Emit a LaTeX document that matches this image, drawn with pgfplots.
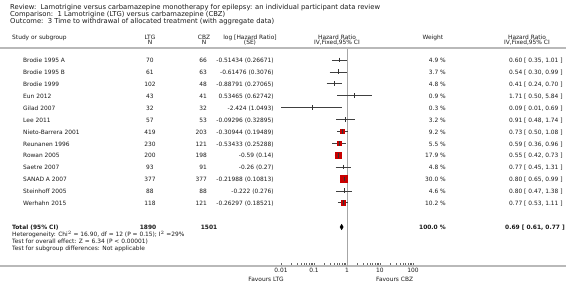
\documentclass[border=0pt]{standalone}
\usepackage{fontspec}
\setmainfont{DejaVu Sans}
\usepackage{pgfplots}
\pgfplotsset{compat=1.18}
\definecolor{sqred}{RGB}{200,0,0}
\definecolor{txt}{RGB}{25,25,25}
\begin{document}
\begin{tikzpicture}
\tikzset{t/.style={font=\fontsize{5.9}{7}\selectfont, inner sep=0pt, text=txt},
         tt/.style={font=\fontsize{6.8}{7.5}\selectfont, inner sep=0pt, text=txt},
         tb/.style={t, font=\fontsize{5.9}{7}\selectfont\bfseries}}
\useasboundingbox (0,0) rectangle (566pt,289pt);
\begin{axis}[
  at={(0pt,23pt)}, anchor=south west,
  scale only axis, width=566pt, height=218pt,
  xmode=log, xmin=3.053e-11, xmax=4.329e6,
  ymin=48, ymax=266, y dir=reverse,
  axis x line*=bottom, axis y line=none,
  x axis line style={gray!55, line width=1.6pt, -},
  xtick={0.01,0.1,1,10,100},
  xticklabels={0.01,0.1,1,10,100},
  xticklabel style={font=\fontsize{5.9}{7}\selectfont, text=txt, inner sep=1pt, yshift=-0.5pt},
  xtick style={black!60, line width=0.4pt},
  major tick length=2.5pt, tick align=inside,
  minor xtick={},
  clip=false,
]
% vertical line of no effect
\addplot[gray!70, line width=0.5pt] coordinates {(1,48) (1,266)};
% weighted squares (red)
\addplot[only marks, mark=square*, mark size=1.9pt, color=sqred] coordinates {(0.73,131.4)};
\addplot[only marks, mark=square*, mark size=1.8pt, color=sqred] coordinates {(0.59,143.3)};
\addplot[only marks, mark=square*, mark size=3.0pt, color=sqred] coordinates {(0.55,155.2)};
\addplot[only marks, mark=square*, mark size=3.6pt, color=sqred] coordinates {(0.80,179.0)};
\addplot[only marks, mark=square*, mark size=2.1pt, color=sqred] coordinates {(0.77,202.8)};
% confidence intervals
\addplot[black!75, line width=0.6pt, unbounded coords=jump] coordinates {
 (0.35,60.0) (1.01,60.0) (nan,nan)
 (0.30,71.9) (0.99,71.9) (nan,nan)
 (0.24,83.8) (0.70,83.8) (nan,nan)
 (0.50,95.7) (5.84,95.7) (nan,nan)
 (0.01,107.6) (0.69,107.6) (nan,nan)
 (0.48,119.5) (1.74,119.5) (nan,nan)
 (0.50,131.4) (1.08,131.4) (nan,nan)
 (0.36,143.3) (0.96,143.3) (nan,nan)
 (0.42,155.2) (0.73,155.2) (nan,nan)
 (0.45,167.1) (1.31,167.1) (nan,nan)
 (0.65,179.0) (0.99,179.0) (nan,nan)
 (0.47,190.9) (1.38,190.9) (nan,nan)
 (0.53,202.8) (1.11,202.8)
};
% point estimates
\addplot[only marks, mark=|, mark size=2.4pt, black!80, mark options={line width=0.6pt}] coordinates {
 (0.60,60.0) (0.54,71.9) (0.41,83.8) (1.71,95.7) (0.09,107.6) (0.91,119.5)
 (0.73,131.4) (0.59,143.3) (0.55,155.2) (0.77,167.1) (0.80,179.0) (0.80,190.9) (0.77,202.8)
};
% pooled diamond
\addplot[black, fill=black, line width=0.3pt] coordinates {(0.61,227) (0.69,224.2) (0.77,227) (0.69,229.8) (0.61,227)};
\end{axis}
\begin{scope}[x=1pt, y=-1pt, yshift=289pt]
% titles
\node[tt, anchor=mid west] at (10,6.5) {Review:\ \ Lamotrigine versus carbamazepine monotherapy for epilepsy: an individual participant data review};
\node[tt, anchor=mid west] at (10,13.4) {Comparison:\ \ 1 Lamotrigine (LTG) versus carbamazepine (CBZ)};
\node[tt, anchor=mid west] at (10,20.3) {Outcome:\ \ 3 Time to withdrawal of allocated treatment (with aggregate data)};
% headers
\node[t, anchor=mid west] at (12,37) {Study or subgroup};
\node[t, anchor=mid] at (150,36.5) {LTG};
\node[t, anchor=mid] at (150,42) {N};
\node[t, anchor=mid] at (204,36.5) {CBZ};
\node[t, anchor=mid] at (204,42) {N};
\node[t, anchor=mid] at (250,36.5) {log [Hazard Ratio]};
\node[t, anchor=mid] at (250,42) {(SE)};
\node[t, anchor=mid] at (337,36.5) {Hazard Ratio};
\node[t, anchor=mid] at (337,42) {IV,Fixed,95\% CI};
\node[t, anchor=mid] at (433,37) {Weight};
\node[t, anchor=mid] at (527,36.5) {Hazard Ratio};
\node[t, anchor=mid] at (527,42) {IV,Fixed,95\% CI};
\draw[gray!55, line width=1.6pt] (0,47.8) -- (566,47.8);
% study rows
\foreach \y/\name/\na/\nb/\lhr/\w/\hr in {
 60.0/{Brodie 1995 A}/70/66/{-0.51434 (0.26671)}/{4.9 \%}/{0.60 [ 0.35, 1.01 ]},
 71.9/{Brodie 1995 B}/61/63/{-0.61476 (0.3076)}/{3.7 \%}/{0.54 [ 0.30, 0.99 ]},
 83.8/{Brodie 1999}/102/48/{-0.88791 (0.27065)}/{4.8 \%}/{0.41 [ 0.24, 0.70 ]},
 95.7/{Eun 2012}/43/41/{0.53465 (0.62742)}/{0.9 \%}/{1.71 [ 0.50, 5.84 ]},
 107.6/{Gilad 2007}/32/32/{-2.424 (1.0493)}/{0.3 \%}/{0.09 [ 0.01, 0.69 ]},
 119.5/{Lee 2011}/57/53/{-0.09296 (0.32895)}/{3.2 \%}/{0.91 [ 0.48, 1.74 ]},
 131.4/{Nieto-Barrera 2001}/419/203/{-0.30944 (0.19489)}/{9.2 \%}/{0.73 [ 0.50, 1.08 ]},
 143.3/{Reunanen 1996}/230/121/{-0.53433 (0.25288)}/{5.5 \%}/{0.59 [ 0.36, 0.96 ]},
 155.2/{Rowan 2005}/200/198/{-0.59 (0.14)}/{17.9 \%}/{0.55 [ 0.42, 0.73 ]},
 167.1/{Saetre 2007}/93/91/{-0.26 (0.27)}/{4.8 \%}/{0.77 [ 0.45, 1.31 ]},
 179.0/{SANAD A 2007}/377/377/{-0.21988 (0.10813)}/{30.0 \%}/{0.80 [ 0.65, 0.99 ]},
 190.9/{Steinhoff 2005}/88/88/{-0.222 (0.276)}/{4.6 \%}/{0.80 [ 0.47, 1.38 ]},
 202.8/{Werhahn 2015}/118/121/{-0.26297 (0.18521)}/{10.2 \%}/{0.77 [ 0.53, 1.11 ]}}
{
 \node[t, anchor=mid west] at (23,\y) {\name};
 \node[t, anchor=mid] at (150,\y) {\na};
 \node[t, anchor=mid east] at (207,\y) {\nb};
 \node[t, anchor=mid east] at (274,\y) {\lhr};
 \node[t, anchor=mid east] at (446,\y) {\w};
 \node[t, anchor=mid west] at (509,\y) {\hr};
}
% total
\node[tb, anchor=mid west] at (12,227) {Total (95\% CI)};
\node[tb, anchor=mid] at (148,227) {1890};
\node[tb, anchor=mid] at (209,227) {1501};
\node[tb, anchor=mid east] at (446,227) {100.0 \%};
\node[tb, anchor=mid west] at (505,227) {0.69 [ 0.61, 0.77 ]};
\node[t, anchor=mid west] at (12,233.8) {Heterogeneity: Chi$^{2}$ = 16.90, df = 12 (P = 0.15); I$^{2}$ =29\%};
\node[t, anchor=mid west] at (12,240.6) {Test for overall effect: Z = 6.34 (P {\char"003C} 0.00001)};
\node[t, anchor=mid west] at (12,247.4) {Test for subgroup differences: Not applicable};
% favours
\node[t, anchor=mid east] at (284,279) {Favours LTG};
\node[t, anchor=mid west] at (376,279) {Favours CBZ};
\end{scope}
\end{tikzpicture}
\end{document}
